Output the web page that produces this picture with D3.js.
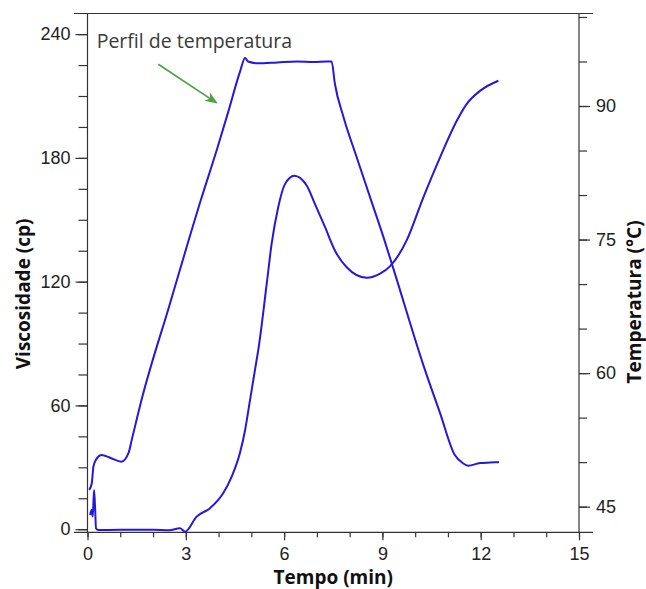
<!DOCTYPE html>
<html>
<head>
<meta charset="utf-8">
<script src="https://cdn.jsdelivr.net/npm/d3@7"></script>
<style>
  body { margin: 0; background: #fff; }
  .tick text { font-family: "Liberation Sans", Arial, sans-serif; font-size: 18px; fill: #222; }
  .tick line { stroke: #333; stroke-width: 1.2; }
  .title { font-family: "Open Sans", "Noto Sans", sans-serif; font-weight: bold; font-size: 19px; fill: #111; }
</style>
</head>
<body>
<div id="chart"></div>
<script>
/* viscosity and temperature profile vs time */

// temperature profile (right axis, °C)
const tempTime = [0.05, 0.13, 0.18, 0.28, 0.43, 0.69, 1.04, 1.25, 1.35, 1.65, 2.5, 3.49, 3.94, 4.3, 4.65, 4.81, 4.9, 5.2, 5.8, 6.4, 6.9, 7.3, 7.45,
    7.55, 7.81, 8.21, 8.62, 9.03, 9.38, 10.25, 10.76, 11.21, 11.45, 11.62, 11.98, 12.3, 12.56];
const tempVals = [46.9, 47.6, 49.5, 50.4, 50.8, 50.5, 50.05, 51.0, 52.5, 57.0, 67.6, 79.8, 85.0, 89.4, 93.8, 95.4, 95.0, 94.8, 94.9, 95.0, 94.95, 95.0, 95.0,
    92.5, 88.8, 84.3, 79.8, 75.3, 71.2, 60.9, 55.5, 50.8, 49.9, 49.6, 49.9, 49.95, 50.0];

// viscosity (left axis, cp)
const viscTime = [0.08, 0.13, 0.16, 0.2, 0.23, 0.26, 0.33, 1.0, 2.0, 2.5, 2.82, 2.98, 3.33, 3.74, 4.14, 4.4, 4.65, 4.81, 4.96, 5.06, 5.16, 5.21,
    5.47, 5.62, 5.82, 6.03, 6.31, 6.69, 6.94, 7.25, 7.55, 7.91, 8.52, 8.93, 9.23, 9.74, 10.25, 10.76, 11.27, 11.57, 11.98, 12.54];
const viscVals = [6.9, 9.4, 6.1, 19, 11, 0.4, -0.4, -0.3, -0.3, -0.5, 0.5, -1.2, 6.1, 10.2, 17.4, 25.5, 36.8, 48.1, 62.6, 72.3, 81.9, 86.7,
    119, 138.4, 156.1, 167.4, 171.4, 166.6, 157.7, 146.4, 135.1, 127, 121.9, 123.9, 127.4, 140, 160.9, 180.3, 198, 206.1, 212.5, 217.4];

const xMajor = [0, 3, 6, 9, 12, 15];
const viscMajor = [0, 60, 120, 180, 240];
const tempMajor = [45, 60, 75, 90];

// annotation, in chart units
const noteText = "Perfil de temperatura";
const notePos = [0.28, 233.1];
const arrowFrom = [2.16, 225.4], arrowTo = [3.94, 206.7];

const width = 646, height = 589,
    margin = ({top: 13.5, right: 67, bottom: 56.7, left: 87.5});

const blue = "#2418dc", axisColor = "#333";

let svg = d3.select("#chart")
    .append("svg")
    .attr("width", width)
    .attr("height", height);

const x = d3.scaleLinear()
    .domain([0, 15])
    .range([margin.left, width - margin.right]);

const yV = d3.scaleLinear()
    .domain([-1.5, 250])
    .range([height - margin.bottom, margin.top]);

const yT = d3.scaleLinear()
    .domain([42.12, 100.39])
    .range([height - margin.bottom, margin.top]);

const bottom = height - margin.bottom;

// frame lines top and bottom (run a bit past the side axes)
[margin.top, bottom].forEach(yy => {
    svg.append("line")
        .attr("x1", x(0) - 13.5).attr("x2", x(15) + 14)
        .attr("y1", yy).attr("y2", yy)
        .attr("stroke", axisColor).attr("stroke-width", 1.2);
});

// x axis
svg.append("g")
    .attr("transform", `translate(0,${bottom})`)
    .call(d3.axisBottom(x).tickValues(d3.range(0, 16, 1)).tickSize(5).tickFormat(""))
    .call(g => g.select(".domain").remove());
svg.append("g")
    .attr("transform", `translate(0,${bottom})`)
    .call(d3.axisBottom(x).tickValues(xMajor).tickSize(8).tickPadding(7))
    .call(g => g.select(".domain").remove());

// left axis
svg.append("g")
    .attr("transform", `translate(${margin.left},0)`)
    .call(d3.axisLeft(yV).tickValues(d3.range(0, 250, 15)).tickSize(9).tickFormat(""))
    .call(g => g.select(".domain").remove());
svg.append("g")
    .attr("transform", `translate(${margin.left},0)`)
    .call(d3.axisLeft(yV).tickValues(viscMajor).tickSize(12).tickPadding(5))
    .call(g => g.select(".domain").remove());

// right axis
svg.append("g")
    .attr("transform", `translate(${width - margin.right},0)`)
    .call(d3.axisRight(yT).tickValues(d3.range(45, 101, 5)).tickSize(8).tickFormat(""))
    .call(g => g.select(".domain").remove());
svg.append("g")
    .attr("transform", `translate(${width - margin.right},0)`)
    .call(d3.axisRight(yT).tickValues(tempMajor).tickSize(11).tickPadding(6))
    .call(g => g.select(".domain").remove());

// side axis lines
[x(0), x(15)].forEach(xx => {
    svg.append("line")
        .attr("x1", xx).attr("x2", xx)
        .attr("y1", margin.top).attr("y2", bottom)
        .attr("stroke", axisColor).attr("stroke-width", 1.2);
});

// curves
const tempLine = d3.line()
    .x((d, i) => x(tempTime[i]))
    .y(d => yT(d))
    .curve(d3.curveMonotoneX);

const viscLine = d3.line()
    .x((d, i) => x(viscTime[i]))
    .y(d => yV(d))
    .curve(d3.curveMonotoneX);

svg.append("path")
    .attr("d", tempLine(tempVals))
    .attr("fill", "none")
    .attr("stroke", blue)
    .attr("stroke-width", 2);

svg.append("path")
    .attr("d", viscLine(viscVals))
    .attr("fill", "none")
    .attr("stroke", blue)
    .attr("stroke-width", 2);

// axis titles
svg.append("text")
    .attr("class", "title")
    .attr("x", (x(0) + x(15)) / 2)
    .attr("y", 584)
    .attr("text-anchor", "middle")
    .text("Tempo (min)");

svg.append("text")
    .attr("class", "title")
    .attr("transform", `translate(30,${(margin.top + bottom) / 2 + 21}) rotate(-90)`)
    .attr("text-anchor", "middle")
    .text("Viscosidade (cp)");

svg.append("text")
    .attr("class", "title")
    .attr("transform", `translate(641,${(margin.top + bottom) / 2 + 29}) rotate(-90)`)
    .attr("text-anchor", "middle")
    .text("Temperatura (°C)");

// annotation with arrow
svg.append("defs").append("marker")
    .attr("id", "head")
    .attr("viewBox", "0 0 10 10")
    .attr("refX", 9).attr("refY", 5)
    .attr("markerWidth", 8).attr("markerHeight", 8)
    .attr("orient", "auto")
    .append("path")
    .attr("d", "M0,1 L10,5 L0,9 L3,5 Z")
    .attr("fill", "#4f9f45");

svg.append("line")
    .attr("x1", x(arrowFrom[0])).attr("y1", yV(arrowFrom[1]))
    .attr("x2", x(arrowTo[0])).attr("y2", yV(arrowTo[1]))
    .attr("stroke", "#4f9f45")
    .attr("stroke-width", 1.6)
    .attr("marker-end", "url(#head)");

svg.append("text")
    .attr("x", x(notePos[0]))
    .attr("y", yV(notePos[1]))
    .style("font-family", '"Open Sans", "Noto Sans", sans-serif')
    .style("font-size", "19.5px")
    .style("fill", "#3a3a3a")
    .text(noteText);
</script>
</body>
</html>
